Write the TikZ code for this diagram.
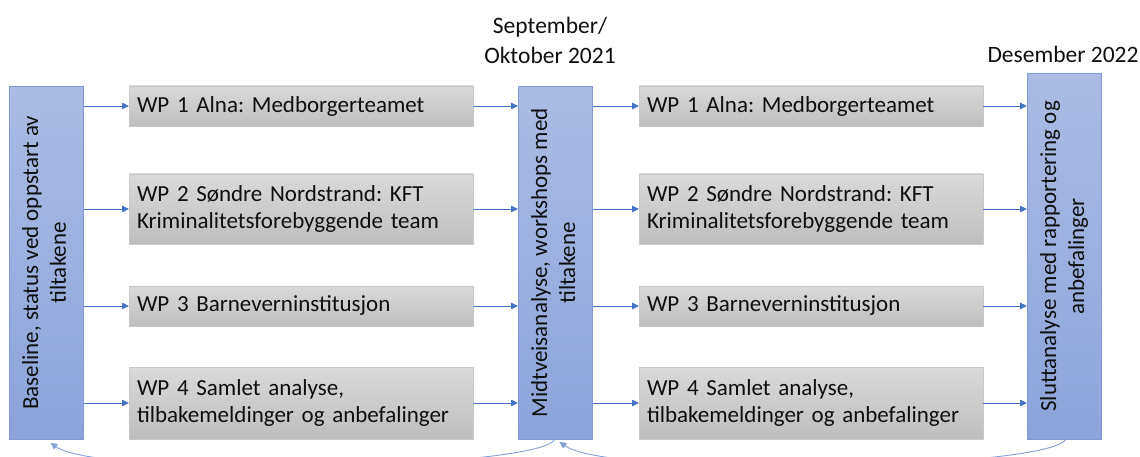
\documentclass[tikz,border=0pt]{standalone}
\usepackage{fontspec}
\setmainfont{Carlito}
\usetikzlibrary{arrows.meta}
\frenchspacing
\definecolor{bluefillA}{RGB}{172,187,229}
\definecolor{bluefillB}{RGB}{140,163,219}
\definecolor{blueline}{RGB}{128,152,214}
\definecolor{grayA}{RGB}{218,218,218}
\definecolor{grayB}{RGB}{190,190,190}
\definecolor{grayline}{RGB}{200,200,200}
\definecolor{arrowblue}{RGB}{68,114,196}
\definecolor{curveblue}{RGB}{130,160,215}
\definecolor{txt}{RGB}{15,15,15}
\tikzset{
  phasebox/.style={draw=blueline, line width=0.8pt, top color=bluefillA, bottom color=bluefillB,
    minimum width=74pt, inner sep=0pt, anchor=north west, text=txt,
    font=\fontsize{23}{28}\selectfont},
  wpbox/.style={draw=grayline, line width=0.8pt, top color=grayA, bottom color=grayB,
    minimum width=344pt, text width=328pt, inner sep=7pt, outer sep=0pt, align=left,
    anchor=north west, text=txt, font=\fontsize{23}{27}\selectfont},
  flow/.style={draw=arrowblue, line width=0.8pt, -{Triangle[length=7pt,width=6.5pt]}},
  back/.style={draw=curveblue, line width=0.9pt, -{Triangle[length=7pt,width=6.5pt]}},
  datelabel/.style={align=center, text=txt, font=\fontsize{23.5}{30}\selectfont, inner sep=0pt}
}
\begin{document}
\begin{tikzpicture}[x=1pt,y=-1pt]
\useasboundingbox (0,0) rectangle (1140,457);
\clip (0,0) rectangle (1140,457);
% phase boxes
\node[phasebox, minimum height=353pt] (base) at (9,86)
  {\rotatebox{90}{\begin{tabular}{@{}c@{}}Baseline, status ved oppstart av\\tiltakene\end{tabular}}};
\node[phasebox, minimum height=353pt] (mid) at (518,86)
  {\rotatebox{90}{\begin{tabular}{@{}c@{}}Midtveisanalyse, workshops med\\tiltakene\end{tabular}}};
\node[phasebox, minimum height=366pt] (end) at (1027,73)
  {\rotatebox{90}{\begin{tabular}{@{}c@{}}Sluttanalyse med rapportering og\\anbefalinger\end{tabular}}};
% left WP boxes
\node[wpbox, minimum height=40pt] (a1) at (129,86) {WP 1 Alna: Medborgerteamet};
\node[wpbox, minimum height=70pt] (a2) at (129,174) {WP 2 Søndre Nordstrand: KFT\\Kriminalitetsforebyggende team};
\node[wpbox, minimum height=40pt] (a3) at (129,286) {WP 3 Barneverninstitusjon};
\node[wpbox, minimum height=72pt] (a4) at (129,367) {WP 4 Samlet analyse,\\tilbakemeldinger og anbefalinger};
% right WP boxes
\node[wpbox, minimum height=40pt] (b1) at (639,86) {WP 1 Alna: Medborgerteamet};
\node[wpbox, minimum height=70pt] (b2) at (639,174) {WP 2 Søndre Nordstrand: KFT\\Kriminalitetsforebyggende team};
\node[wpbox, minimum height=40pt] (b3) at (639,286) {WP 3 Barneverninstitusjon};
\node[wpbox, minimum height=72pt] (b4) at (639,367) {WP 4 Samlet analyse,\\tilbakemeldinger og anbefalinger};
% date labels
\node[datelabel] (d1) at (550,40) {September/\\Oktober 2021};
\node[datelabel] (d2) at (1063,54) {Desember 2022};
% arrows
\foreach \w in {a1,a2,a3,a4}{
  \draw[flow] (base.east |- \w.west) -- (\w.west);
  \draw[flow] (\w.east) -- (mid.west |- \w.east);
}
\foreach \w in {b1,b2,b3,b4}{
  \draw[flow] (mid.east |- \w.west) -- (\w.west);
  \draw[flow] (\w.east) -- (end.west |- \w.east);
}
% feedback curves
\coordinate (endS) at ([xshift=1pt]end.south);
\coordinate (midIn) at ([xshift=4pt,yshift=-2pt]mid.south);
\coordinate (midOut) at ([xshift=-1pt]mid.south);
\coordinate (baseIn) at ([xshift=4pt,yshift=-3pt]base.south);
\draw[back] (endS) .. controls (1045,470) and (610,478) .. (midIn);
\draw[back] (midOut) .. controls (535,470) and (100,478) .. (baseIn);
\end{tikzpicture}
\end{document}
